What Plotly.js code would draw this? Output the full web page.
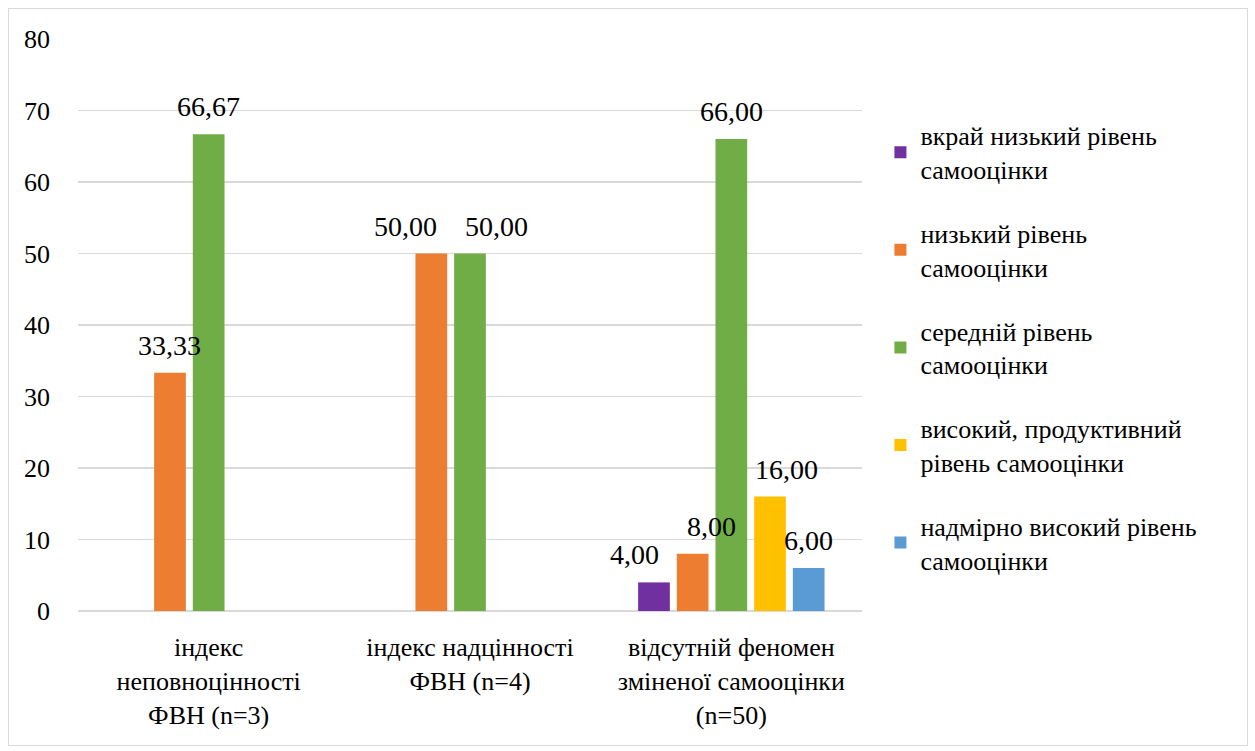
<!DOCTYPE html>
<html>
<head>
<meta charset="utf-8">
<script src="https://cdn.plot.ly/plotly-3.0.1.min.js"></script>
<style>
  html, body { margin: 0; padding: 0; background: #ffffff; }
  #chart { position: absolute; left: 8px; top: 8px; width: 1238px; height: 736px; border: 1px solid #d9d9d9; font-family: 'Times New Roman', 'Liberation Serif', serif; }
  #chart svg text { font-family: 'Times New Roman', 'Liberation Serif', serif !important; }
</style>
</head>
<body>
<div id="chart"></div>
<script>
const categories = [
  "індекс<br>неповноцінності<br>ФВН (n=3)",
  "індекс надцінності<br>ФВН (n=4)",
  "відсутній феномен<br>зміненої самооцінки<br>(n=50)"
];
const seriesNames = [
  "вкрай низький рівень<br>самооцінки",
  "низький рівень<br>самооцінки",
  "середній рівень<br>самооцінки",
  "високий, продуктивний<br>рівень самооцінки",
  "надмірно високий рівень<br>самооцінки"
];
const veryLow = [null, null, 4.00];
const low = [33.33, 50.00, 8.00];
const medium = [66.67, 50.00, 66.00];
const high = [null, null, 16.00];
const excessive = [null, null, 6.00];
const yTicks = [0, 10, 20, 30, 40, 50, 60, 70, 80];

const seriesValues = [veryLow, low, medium, high, excessive];
const colors = ["#7030A0", "#ED7D31", "#70AD47", "#FFC000", "#5B9BD5"];
const serifFamily = "Times New Roman";
const tickSize = 26;
const labelSize = 28;
const legendSize = 26;

const chartW = 1238, chartH = 736;
const marg = { l: 69, r: 385, t: 30, b: 134 };
const barGap = 0.26, barGroupGap = 0.18;
const yMax = 80;

const traces = seriesValues.map((vals, i) => ({
  type: "bar",
  name: seriesNames[i],
  legendgroup: "g" + i,
  x: categories,
  y: vals,
  marker: { color: colors[i] },
  hoverinfo: "none"
}));

// ---- data labels (Excel-like placement, avoiding collisions) ----
const fmtLabel = v => v.toFixed(2).replace(".", ",");
const measureLabel = (s) => {
  const c = document.createElement("canvas").getContext("2d");
  c.font = labelSize + "px '" + serifFamily + "', 'Liberation Serif', serif";
  return c.measureText(s).width;
};
const plotW = chartW - marg.l - marg.r, plotH = chartH - marg.t - marg.b;
const catPx = plotW / categories.length;
const nS = seriesValues.length;
const slotFrac = (1 - barGap) / nS;
const barHalfPx = slotFrac * (1 - barGroupGap) * catPx / 2;
const labelHpx = labelSize * 1.1;
const annotations = [];
categories.forEach((cat, j) => {
  const labels = [];
  seriesValues.forEach((vals, i) => {
    const v = vals[j];
    if (v === null || v === undefined) return;
    const xc = j + (i - (nS - 1) / 2) * slotFrac;
    labels.push({ i, v, xc, cx: xc * catPx, w: measureLabel(fmtLabel(v)), shift: 0 });
  });
  labels.forEach(L => {
    const left = seriesValues[L.i - 1] ? seriesValues[L.i - 1][j] : null;
    if (left !== null && left !== undefined && left > L.v) {
      const barRight = L.cx - slotFrac * catPx + barHalfPx;
      const overlap = barRight - (L.cx - L.w / 2);
      if (overlap > 2) L.shift += overlap + 8;
    }
  });
  for (let k = 0; k + 1 < labels.length; k++) {
    const a = labels[k], b = labels[k + 1];
    const dy = Math.abs(a.v - b.v) / yMax * plotH;
    if (dy >= labelHpx) continue;
    const ov = (a.cx + a.shift + a.w / 2) - (b.cx + b.shift - b.w / 2);
    if (ov > 0) {
      const d = (ov + 28) / 2;
      a.shift -= d; b.shift += d;
    }
  }
  labels.forEach(L => annotations.push({
    xref: "x", yref: "y",
    x: L.xc, y: L.v,
    text: fmtLabel(L.v),
    showarrow: false,
    xanchor: "center", yanchor: "bottom",
    xshift: L.shift, yshift: 10,
    font: { family: serifFamily, size: labelSize, color: "#000000" }
  }));
});

const layout = {
  width: chartW,
  height: chartH,
  margin: marg,
  paper_bgcolor: "#ffffff",
  plot_bgcolor: "#ffffff",
  barmode: "group",
  bargap: barGap,
  bargroupgap: barGroupGap,
  font: { family: serifFamily, size: tickSize, color: "#000000" },
  showlegend: true,
  legend: {
    x: 1.0235, xanchor: "left",
    y: 0.46, yanchor: "middle",
    traceorder: "grouped",
    tracegroupgap: 27,
    font: { family: serifFamily, size: legendSize, color: "#000000" },
    bgcolor: "rgba(0,0,0,0)"
  },
  annotations: annotations,
  xaxis: {
    type: "category",
    range: [-0.5, categories.length - 0.5],
    showgrid: false,
    showline: false,
    zeroline: false,
    ticks: "",
    tickfont: { family: serifFamily, size: tickSize, color: "#000000" },
    ticklabelstandoff: 18
  },
  yaxis: {
    range: [0, yMax],
    tickvals: yTicks,
    ticktext: yTicks.map(String),
    showgrid: true,
    gridcolor: "#d9d9d9",
    gridwidth: 1.5,
    zeroline: true,
    zerolinecolor: "#d9d9d9",
    zerolinewidth: 1.5,
    showline: false,
    ticks: "",
    ticklabelstandoff: 27,
    tickfont: { family: serifFamily, size: tickSize, color: "#000000" }
  }
};

Plotly.newPlot("chart", traces, layout, { displayModeBar: false, staticPlot: true });
</script>
</body>
</html>
